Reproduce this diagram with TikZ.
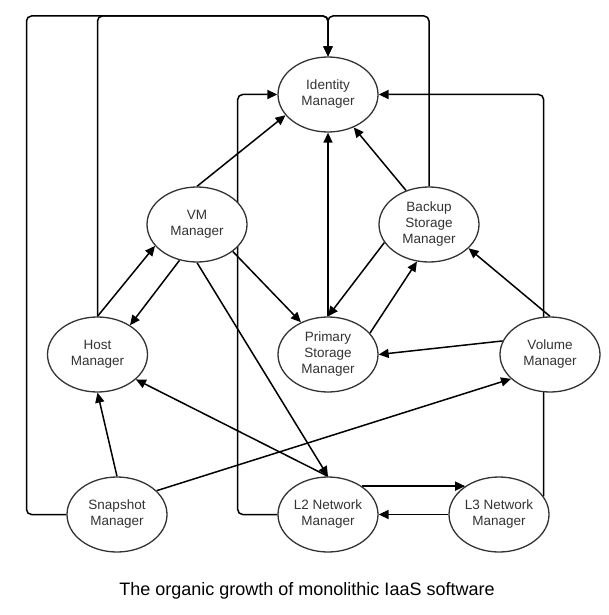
\documentclass[tikz,border=0pt]{standalone}
\usepackage{fontspec}
\setmainfont{Liberation Sans}
\usetikzlibrary{arrows.meta}
\usetikzlibrary{backgrounds}
\usetikzlibrary{shapes.geometric}

\definecolor{inkgray}{HTML}{333333}
\tikzset{
  manager/.style={ellipse,draw=inkgray,line width=1.3pt,fill=white,text=inkgray,
    minimum width=100pt,minimum height=75pt,inner sep=0pt,align=center,
    font=\fontsize{13.5}{16}\selectfont},
  link/.style={draw=black,line width=1.5pt,-{Triangle[length=10pt,width=9pt]}},
  route/.style={link,rounded corners=5pt},
}

\begin{document}
\begin{tikzpicture}[x=1pt,y=-1pt]
\useasboundingbox (0,0) rectangle (608,615);

\node[manager] (idm) at (328,94.5) {Identity\\Manager};
\node[manager] (vmm) at (197,224.5) {VM\\Manager};
\node[manager] (bsm) at (429,224.5) {Backup\\Storage\\Manager};
\node[manager] (hsm) at (97.5,354.5) {Host\\Manager};
\node[manager] (psm) at (328,354.5) {Primary\\Storage\\Manager};
\node[manager] (vol) at (550,354.5) {Volume\\Manager};
\node[manager] (snp) at (117,514.5) {Snapshot\\Manager};
\node[manager] (l2n) at (328,514.5) {L2 Network\\Manager};
\node[manager] (l3n) at (499,514.5) {L3 Network\\Manager};
\coordinate (rail) at (328,16);

\begin{scope}[on background layer]
% long routes into the identity manager
\draw[route] (snp.west) -| (26.5,16) -- (rail) -- (idm.north);
\draw[route] (hsm.north) |- (rail) -- (idm.north);
\draw[route] (bsm.north) |- (rail) -- (idm.north);
\draw[route] (l2n.west) -| (237.7,94.5) -- (idm.west);
\draw[route] (l3n.22) |- (idm.east);

% direct links
\draw[link] (vmm.north) -- (idm.206);
\draw[link] (psm.north) -- (idm.south);
\draw[link] (bsm.124) -- (idm.308);
\draw[link] (hsm.north) -- (vmm.207);
\draw[link] (vmm.244) -- (hsm.42);
\draw[link] (vmm.south) -- (l2n.north);
\draw[link] (vmm.323) -- (psm.130);
\draw[link] (psm.27) -- (bsm.252);
\draw[link] (bsm.202) -- (psm.north);
\draw[link] (vol.north) -- (bsm.329);
\draw[link] (vol.164) -- (psm.east);
\draw[link] (l2n.north) -- (hsm.327);
\draw[link] (snp.north) -- (hsm.south);
\draw[link] (snp.31) -- (vol.212);
\draw[link] (l2n.40) -- (l3n.140);
\draw[link] (l3n.west) -- (l2n.east);
\end{scope}

\node[font=\fontsize{18}{20}\selectfont,anchor=base] (cap) at (307,595) {The organic growth of monolithic IaaS software};
\end{tikzpicture}
\end{document}
